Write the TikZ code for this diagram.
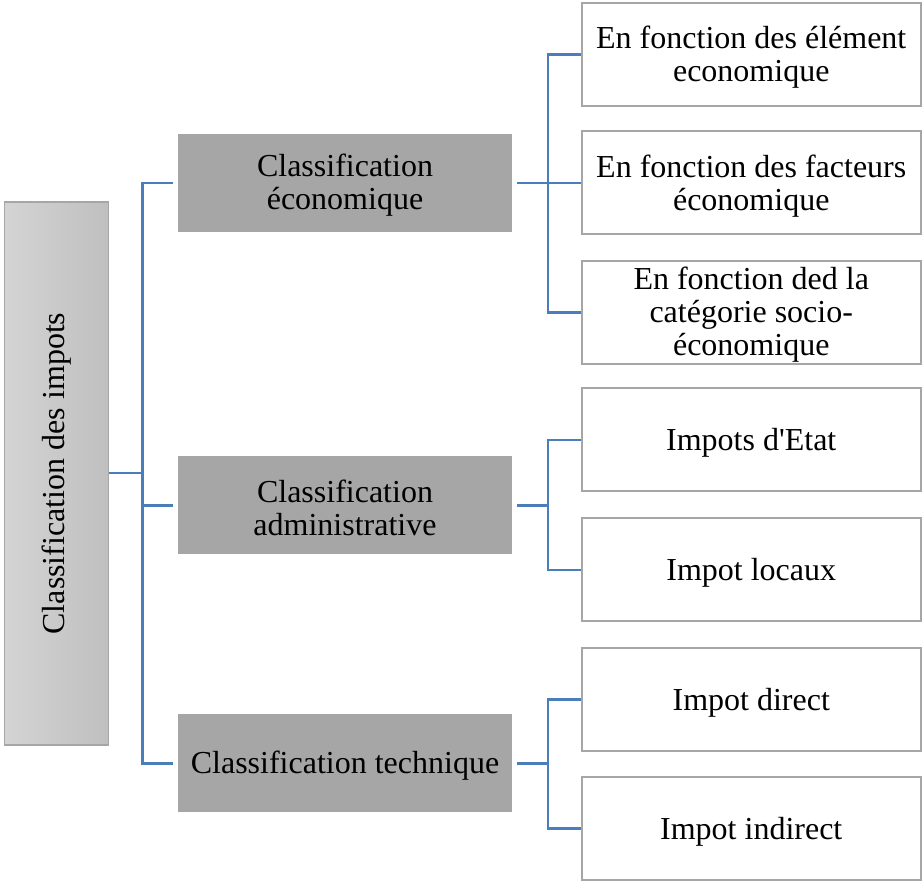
\documentclass[tikz,border=0pt]{standalone}
\usepackage{fontspec}
\setmainfont{Liberation Serif}[Ligatures=TeXOff]
\definecolor{connblue}{RGB}{74,126,187}
\definecolor{boxgray}{RGB}{166,166,166}
\definecolor{midgray}{RGB}{166,166,166}
\definecolor{rootleft}{RGB}{212,212,212}
\definecolor{rootright}{RGB}{191,191,191}
\tikzset{
  txt/.style={font=\fontsize{32pt}{33pt}\selectfont, text=black, align=center, inner sep=0pt},
  rootbox/.style={draw=boxgray, line width=1.5pt, left color=rootleft, right color=rootright, minimum width=104pt, minimum height=543pt},
  midbox/.style={fill=midgray, minimum width=334pt, minimum height=98pt},
  leafbox/.style={draw=boxgray, fill=white, line width=2pt, minimum width=338.5pt, minimum height=103pt},
  conn/.style={draw=connblue, line width=2.5pt}
}
\begin{document}
\begin{tikzpicture}[x=1pt,y=-1pt]
\useasboundingbox (0,0) rectangle (922,882);
% root
\node[rootbox] (root) at (56.7,473.5) {};
\node[txt, rotate=90] (roottxt) at (root.center) {Classification des impots};
% middle
\node[midbox] (m1) at (345,183) {};
\node[midbox] (m2) at (345,505.5) {};
\node[midbox] (m3) at (345,763.4) {};
\node[txt] (m1t) at ([yshift=-2pt]m1.center) {Classification\\économique};
\node[txt] (m2t) at ([yshift=-2pt]m2.center) {Classification\\administrative};
\node[txt] (m3t) at ([yshift=-2pt]m3.center) {Classification technique};
% leaves
\node[leafbox] (l1) at (751.25,54.5) {};
\node[leafbox] (l2) at (751.25,183) {};
\node[leafbox] (l3) at (751.25,312.5) {};
\node[leafbox] (l4) at (751.25,440) {};
\node[leafbox] (l5) at (751.25,570) {};
\node[leafbox] (l6) at (751.25,699.5) {};
\node[leafbox] (l7) at (751.25,828.5) {};
\node[txt] (l1t) at ([yshift=-3pt]l1.center) {En fonction des élément\\economique};
\node[txt] (l2t) at ([yshift=-3pt]l2.center) {En fonction des facteurs\\économique};
\node[txt] (l3t) at ([yshift=-2pt]l3.center) {En fonction ded la\\catégorie socio-\\économique};
\node[txt] (l4t) at ([yshift=-3pt]l4.center) {Impots d'Etat};
\node[txt] (l5t) at ([yshift=-3pt]l5.center) {Impot locaux};
\node[txt] (l6t) at ([yshift=-3pt]l6.center) {Impot direct};
\node[txt] (l7t) at ([yshift=-3pt]l7.center) {Impot indirect};
% junctions
\coordinate (j0) at (142.5,473);
\coordinate (j1) at (548,183);
\coordinate (j2) at (548,505.5);
\coordinate (j3) at (548,763.4);
% root connectors
\draw[conn] (root.east |- j0) -- (j0);
\draw[conn] ([xshift=-5pt]m1.west) -| (j0) |- ([xshift=-5pt]m3.west);
\draw[conn] (j0 |- m2.west) -- ([xshift=-5pt]m2.west);
% group 1
\draw[conn] ([xshift=4.7pt]m1.east) -- (j1);
\draw[conn] (l1.west) -| (j1) |- (l3.west);
\draw[conn] (j1) -- (l2.west);
% group 2
\draw[conn] ([xshift=4.7pt]m2.east) -- (j2);
\draw[conn] (l4.west) -| (j2) |- (l5.west);
% group 3
\draw[conn] ([xshift=4.7pt]m3.east) -- (j3);
\draw[conn] (l6.west) -| (j3) |- (l7.west);
\end{tikzpicture}
\end{document}
